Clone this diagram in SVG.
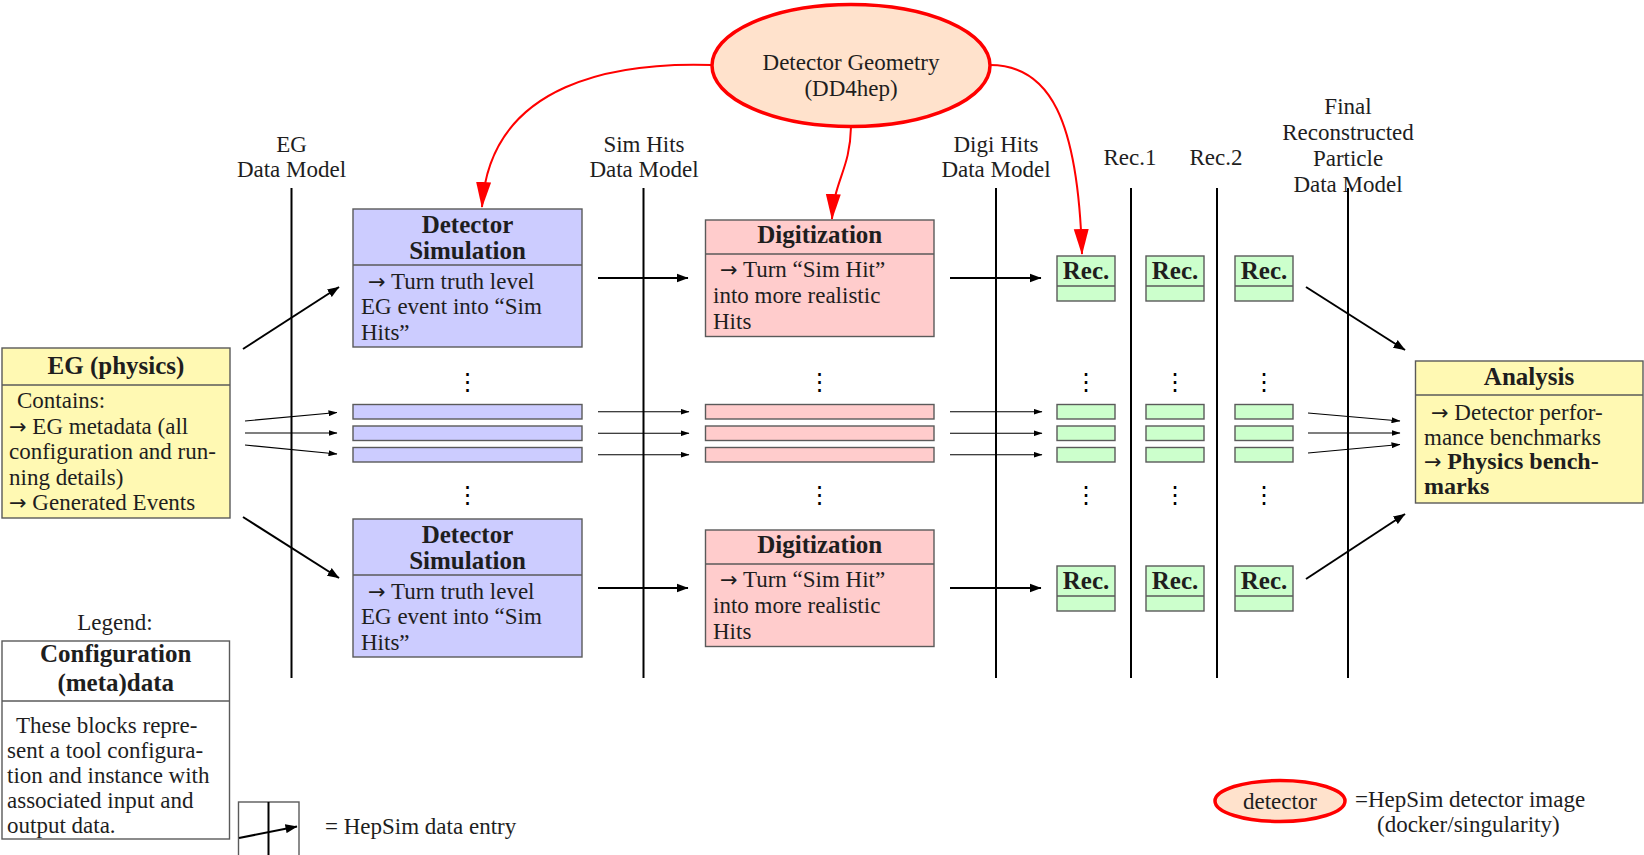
<svg xmlns="http://www.w3.org/2000/svg" width="1644" height="855" viewBox="0 0 1644 855">
<defs>
<marker id="ah" viewBox="0 0 12 10" refX="11.5" refY="5" markerWidth="12" markerHeight="10" markerUnits="userSpaceOnUse" orient="auto"><path d="M0,0.5 L12,5 L0,9.5 Z" fill="#000"/></marker>
<marker id="ahs" viewBox="0 0 9 6" refX="8.5" refY="3" markerWidth="9" markerHeight="6" markerUnits="userSpaceOnUse" orient="auto"><path d="M0,0 L9,3 L0,6 Z" fill="#000"/></marker>
<marker id="ahr" viewBox="0 0 26 16" refX="25" refY="8" markerWidth="26" markerHeight="16" markerUnits="userSpaceOnUse" orient="auto"><path d="M0,0.5 L26,8 L0,15.5 Z" fill="#f00"/></marker>
</defs>
<style>
text{font-family:"Liberation Serif","Times New Roman",serif;font-size:23px;fill:#1e1e1e}
.b{font-weight:bold;font-size:25px}
.bb{font-weight:bold;font-size:24px}
.m{text-anchor:middle}
.a{font-family:"DejaVu Sans",sans-serif;font-size:21px;font-weight:normal}
.box{stroke:#5a5a5a;stroke-width:1.4}
.blue{fill:#ccccff}
.pink{fill:#ffcccc}
.green{fill:#ccffcc}
.yel{fill:#fff9b3}
.wht{fill:#fff}
.dl{stroke:#5a5a5a;stroke-width:1.4}
.vl{stroke:#000;stroke-width:2}
.ar{stroke:#000;stroke-width:2;fill:none;marker-end:url(#ah)}
.as{stroke:#000;stroke-width:1.1;fill:none;marker-end:url(#ahs)}
.rc{stroke:#f00;stroke-width:2;fill:none;marker-end:url(#ahr)}
.ell{fill:#ffe2cc;stroke:#f00;stroke-width:3.5}
.dots{font-family:"DejaVu Sans",sans-serif;font-size:24px;text-anchor:middle;fill:#000}
</style>
<rect width="1644" height="855" fill="#fff"/>

<g id="column-labels">
<text class="m" x="291.5" y="152">EG</text>
<text class="m" x="291.5" y="177">Data Model</text>
<text class="m" x="644" y="152">Sim Hits</text>
<text class="m" x="644" y="177">Data Model</text>
<text class="m" x="996" y="152">Digi Hits</text>
<text class="m" x="996" y="177">Data Model</text>
<text class="m" x="1130" y="165">Rec.1</text>
<text class="m" x="1216" y="165">Rec.2</text>
<text class="m" x="1348" y="114">Final</text>
<text class="m" x="1348" y="140">Reconstructed</text>
<text class="m" x="1348" y="166">Particle</text>
<text class="m" x="1348" y="192">Data Model</text>
</g>

<g id="data-model-lines">
<line class="vl" x1="291.5" y1="188" x2="291.5" y2="678"/>
<line class="vl" x1="643.5" y1="188" x2="643.5" y2="678"/>
<line class="vl" x1="996" y1="188" x2="996" y2="678"/>
<line class="vl" x1="1131" y1="188" x2="1131" y2="678"/>
<line class="vl" x1="1217" y1="188" x2="1217" y2="678"/>
<line class="vl" x1="1348" y1="188" x2="1348" y2="678"/>
</g>

<g id="detector-geometry">
<ellipse class="ell" cx="851" cy="65.5" rx="139" ry="61"/>
<text class="m" x="851" y="70">Detector Geometry</text>
<text class="m" x="851" y="96">(DD4hep)</text>
</g>

<g id="eg-physics">
<rect class="box yel" x="2" y="348" width="228" height="170"/>
<line class="dl" x1="2" y1="385" x2="230" y2="385"/>
<text class="b m" x="116" y="374">EG (physics)</text>
<text x="17" y="408">Contains:</text>
<text x="9" y="433.5"><tspan class="a">→</tspan> EG metadata (all</text>
<text x="9" y="459">configuration and run-</text>
<text x="9" y="484.5">ning details)</text>
<text x="9" y="510"><tspan class="a">→</tspan> Generated Events</text>
</g>

<g id="detsim-top">
<rect class="box blue" x="353" y="209" width="229" height="138"/>
<line class="dl" x1="353" y1="265" x2="582" y2="265"/>
<text class="b m" x="467.5" y="232.5">Detector</text>
<text class="b m" x="467.5" y="258.5">Simulation</text>
<text x="368" y="288.5"><tspan class="a">→</tspan> Turn truth level</text>
<text x="361" y="314">EG event into “Sim</text>
<text x="361" y="340">Hits”</text>
</g>

<g id="detsim-bottom">
<rect class="box blue" x="353" y="519" width="229" height="138"/>
<line class="dl" x1="353" y1="575" x2="582" y2="575"/>
<text class="b m" x="467.5" y="542.5">Detector</text>
<text class="b m" x="467.5" y="568.5">Simulation</text>
<text x="368" y="598.5"><tspan class="a">→</tspan> Turn truth level</text>
<text x="361" y="624">EG event into “Sim</text>
<text x="361" y="650">Hits”</text>
</g>

<g id="digi-top">
<rect class="box pink" x="705.5" y="220" width="228.5" height="116.5"/>
<line class="dl" x1="705.5" y1="254" x2="934" y2="254"/>
<text class="b m" x="819.75" y="243.3">Digitization</text>
<text x="720" y="277"><tspan class="a">→</tspan> Turn “Sim Hit”</text>
<text x="713" y="303">into more realistic</text>
<text x="713" y="329">Hits</text>
</g>

<g id="digi-bottom">
<rect class="box pink" x="705.5" y="530" width="228.5" height="116.5"/>
<line class="dl" x1="705.5" y1="564" x2="934" y2="564"/>
<text class="b m" x="819.75" y="553.3">Digitization</text>
<text x="720" y="587"><tspan class="a">→</tspan> Turn “Sim Hit”</text>
<text x="713" y="613">into more realistic</text>
<text x="713" y="639">Hits</text>
</g>

<g id="rec-top-1">
<rect class="box green" x="1057" y="256" width="58" height="45"/>
<line class="dl" x1="1057" y1="286" x2="1115" y2="286"/>
<text class="b m" x="1086" y="279">Rec.</text>
</g>
<g id="rec-top-2">
<rect class="box green" x="1146" y="256" width="58" height="45"/>
<line class="dl" x1="1146" y1="286" x2="1204" y2="286"/>
<text class="b m" x="1175" y="279">Rec.</text>
</g>
<g id="rec-top-3">
<rect class="box green" x="1235" y="256" width="58" height="45"/>
<line class="dl" x1="1235" y1="286" x2="1293" y2="286"/>
<text class="b m" x="1264" y="279">Rec.</text>
</g>
<g id="rec-bottom-1">
<rect class="box green" x="1057" y="566" width="58" height="45"/>
<line class="dl" x1="1057" y1="596" x2="1115" y2="596"/>
<text class="b m" x="1086" y="589">Rec.</text>
</g>
<g id="rec-bottom-2">
<rect class="box green" x="1146" y="566" width="58" height="45"/>
<line class="dl" x1="1146" y1="596" x2="1204" y2="596"/>
<text class="b m" x="1175" y="589">Rec.</text>
</g>
<g id="rec-bottom-3">
<rect class="box green" x="1235" y="566" width="58" height="45"/>
<line class="dl" x1="1235" y1="596" x2="1293" y2="596"/>
<text class="b m" x="1264" y="589">Rec.</text>
</g>

<g id="sim-bars">
<rect class="box blue" x="353" y="404.5" width="229" height="14.5"/>
<rect class="box blue" x="353" y="426" width="229" height="14.5"/>
<rect class="box blue" x="353" y="447.5" width="229" height="14.5"/>
</g>
<g id="digi-bars">
<rect class="box pink" x="705.5" y="404.5" width="228.5" height="14.5"/>
<rect class="box pink" x="705.5" y="426" width="228.5" height="14.5"/>
<rect class="box pink" x="705.5" y="447.5" width="228.5" height="14.5"/>
</g>
<g id="rec1-bars">
<rect class="box green" x="1057" y="404.5" width="58" height="14.5"/>
<rect class="box green" x="1057" y="426" width="58" height="14.5"/>
<rect class="box green" x="1057" y="447.5" width="58" height="14.5"/>
</g>
<g id="rec2-bars">
<rect class="box green" x="1146" y="404.5" width="58" height="14.5"/>
<rect class="box green" x="1146" y="426" width="58" height="14.5"/>
<rect class="box green" x="1146" y="447.5" width="58" height="14.5"/>
</g>
<g id="rec3-bars">
<rect class="box green" x="1235" y="404.5" width="58" height="14.5"/>
<rect class="box green" x="1235" y="426" width="58" height="14.5"/>
<rect class="box green" x="1235" y="447.5" width="58" height="14.5"/>
</g>

<g id="ellipsis-dots">
<text class="dots" x="467.5" y="390">⋮</text>
<text class="dots" x="819.5" y="390">⋮</text>
<text class="dots" x="1086" y="390">⋮</text>
<text class="dots" x="1175" y="390">⋮</text>
<text class="dots" x="1264" y="390">⋮</text>
<text class="dots" x="467.5" y="503">⋮</text>
<text class="dots" x="819.5" y="503">⋮</text>
<text class="dots" x="1086" y="503">⋮</text>
<text class="dots" x="1175" y="503">⋮</text>
<text class="dots" x="1264" y="503">⋮</text>
</g>

<g id="analysis">
<rect class="box yel" x="1415.5" y="361" width="227.5" height="142"/>
<line class="dl" x1="1415.5" y1="395" x2="1643" y2="395"/>
<text class="b m" x="1529" y="384.5">Analysis</text>
<text x="1431" y="420"><tspan class="a">→</tspan> Detector perfor-</text>
<text x="1424" y="444.5">mance benchmarks</text>
<text x="1424" y="469"><tspan class="a">→</tspan> <tspan class="bb">Physics bench-</tspan></text>
<text class="bb" x="1424" y="494">marks</text>
</g>

<g id="connectors">
<path class="rc" d="M712,65 C620,62 490,80 482,207"/>
<path class="rc" d="M851,127 C850,170 834,180 832,219"/>
<path class="rc" d="M990,65 C1050,65 1078,120 1082,254"/>
<line class="ar" x1="243" y1="349" x2="339" y2="287"/>
<line class="ar" x1="243" y1="517" x2="339" y2="578"/>
<line class="ar" x1="598" y1="278" x2="688" y2="278"/>
<line class="ar" x1="598" y1="588" x2="688" y2="588"/>
<line class="ar" x1="950" y1="278" x2="1041" y2="278"/>
<line class="ar" x1="950" y1="588" x2="1041" y2="588"/>
<line class="ar" x1="1306" y1="287" x2="1405" y2="350"/>
<line class="ar" x1="1306" y1="579" x2="1405" y2="514"/>
<line class="as" x1="245" y1="421" x2="337" y2="412.5"/>
<line class="as" x1="245" y1="433" x2="337" y2="433"/>
<line class="as" x1="245" y1="445" x2="337" y2="454"/>
<line class="as" x1="598" y1="411.75" x2="689" y2="411.75"/>
<line class="as" x1="598" y1="433.25" x2="689" y2="433.25"/>
<line class="as" x1="598" y1="454.75" x2="689" y2="454.75"/>
<line class="as" x1="950" y1="411.75" x2="1042" y2="411.75"/>
<line class="as" x1="950" y1="433.25" x2="1042" y2="433.25"/>
<line class="as" x1="950" y1="454.75" x2="1042" y2="454.75"/>
<line class="as" x1="1308" y1="413" x2="1400" y2="421"/>
<line class="as" x1="1308" y1="433" x2="1400" y2="433"/>
<line class="as" x1="1308" y1="453" x2="1400" y2="444.5"/>
</g>

<g id="legend">
<text class="m" x="115" y="630">Legend:</text>
<rect class="box wht" x="2" y="641" width="227.5" height="198"/>
<line class="dl" x1="2" y1="701" x2="229.5" y2="701"/>
<text class="b m" x="115.75" y="662">Configuration</text>
<text class="b m" x="115.75" y="691">(meta)data</text>
<text x="16" y="732.5">These blocks repre-</text>
<text x="7" y="757.5">sent a tool configura-</text>
<text x="7" y="782.5">tion and instance with</text>
<text x="7" y="807.5">associated input and</text>
<text x="7" y="832.5">output data.</text>
</g>

<g id="legend-data-entry">
<rect x="238.5" y="802" width="60.5" height="70" fill="none" stroke="#5a5a5a" stroke-width="1.4"/>
<line x1="268.5" y1="802" x2="268.5" y2="855" stroke="#000" stroke-width="2"/>
<line class="ar" x1="239" y1="838" x2="297" y2="826.5"/>
<text x="325" y="834">= HepSim data entry</text>
</g>

<g id="legend-detector">
<ellipse class="ell" cx="1280" cy="801" rx="65" ry="20.5"/>
<text class="m" x="1280" y="808.5">detector</text>
<text x="1355" y="807">=HepSim detector image</text>
<text x="1377" y="832">(docker/singularity)</text>
</g>
</svg>
